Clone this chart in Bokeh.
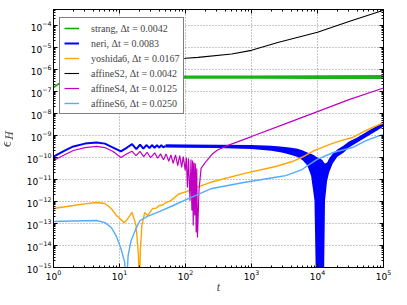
from bokeh.plotting import figure
from bokeh.models import (LogAxis, FixedTicker, LogTickFormatter, Legend, LegendItem,
                          Range1d, CustomJSTickFormatter)
from bokeh.embed import file_html
from bokeh.resources import INLINE

# ---------------- data ----------------
names = ["strang", "neri", "yoshida6", "affineS2", "affineS4", "affineS6"]
dts = ["0.0042", "0.0083", "0.0167", "0.0042", "0.0125", "0.0250"]
colors = ["#00aa00", "#0000ff", "#ffa500", "#000000", "#c000c0", "#55aaff"]

# strang: short rising start, then a thick noisy band
strang_t = [1, 1.18, 1.5, 2, 3]
strang_e = [1.5e-7, 2.2e-7, 3.0e-7, 3.8e-7, 4.5e-7]
strang_band_t = [3, 10, 100, 1000, 10000, 100000]
strang_lo = [3.85e-7, 3.85e-7, 3.8e-7, 3.8e-7, 3.75e-7, 3.7e-7]
strang_hi = [5.3e-7, 5.35e-7, 5.4e-7, 5.45e-7, 5.5e-7, 5.6e-7]

# neri: oscillating start, then a dense band that dives near t = 1e4
neri_t = [1, 1.5, 2, 3, 4.5, 6, 8, 10.5, 13, 15.5, 18, 20.5, 23, 25.5, 28.5, 31,
          34, 37, 40, 43, 46, 50]
neri_e = [1.1e-10, 2.1e-10, 3.2e-10, 4.3e-10, 4.8e-10, 4.3e-10, 2.85e-10, 1.9e-10,
          2.85e-10, 4.1e-10, 2.4e-10, 3.9e-10, 2.56e-10, 3.7e-10, 2.7e-10, 3.7e-10,
          2.8e-10, 3.7e-10, 2.85e-10, 3.65e-10, 2.9e-10, 3.4e-10]
neri_band_t = [50, 100, 300, 1000, 2000, 3000, 4000, 5000, 6000, 7000, 8000, 9000,
               9500, 10000, 11000, 12000, 12500, 13000, 14000, 15000, 17000, 20000,
               25000, 30000, 40000, 60000, 80000, 100000]
neri_hi = [4.0e-10, 3.9e-10, 3.8e-10, 3.7e-10, 3.4e-10, 3.1e-10, 2.8e-10, 2.5e-10,
           2.1e-10, 1.7e-10, 1.5e-10, 1.23e-10, 1.1e-10, 1.0e-10, 9e-11, 7.3e-11,
           5.9e-11, 5.3e-11, 5.9e-11, 9e-11, 1.5e-10, 2.3e-10, 3.5e-10, 5.4e-10,
           8.1e-10, 1.7e-9, 2.8e-9, 4.3e-9]
neri_lo = [2.9e-10, 2.8e-10, 2.7e-10, 2.45e-10, 2.05e-10, 1.65e-10, 1.3e-10, 1.05e-10,
           7.3e-11, 4.3e-11, 1.5e-11, 1.1e-12, 1e-16, 1e-16, 1e-16, 1e-16, 1e-16,
           1.1e-12, 9e-12, 2.1e-11, 5.3e-11, 1.1e-10, 1.7e-10, 2.85e-10, 4.8e-10,
           1.0e-9, 1.7e-9, 2.6e-9]

yoshida_t = [1, 2, 3, 4.5, 6, 7.5, 9, 11.8, 13, 15.5, 17.8, 19.4, 20.0, 20.7, 21.8,
             24.1, 26.7, 31.6, 36, 40.1, 45, 50.8, 60, 79, 103, 155, 241, 762, 2330,
             4150, 5820, 9040, 16100, 22500, 35000, 54300, 87400, 100000]
yoshida_e = [4.8e-13, 6.6e-13, 7.8e-13, 9e-13, 8.1e-13, 4.8e-13, 2.3e-13, 1.1e-13,
             1.5e-13, 3.2e-13, 8.1e-14, 3.5e-15, 1e-16, 5.9e-15, 8.1e-14, 3.2e-13,
             2.3e-13, 4.8e-13, 5.0e-13, 6.6e-13, 7.0e-13, 9e-13, 1.1e-12, 2.2e-12,
             2.8e-12, 4.6e-12, 7.5e-12, 1.87e-11, 3.9e-11, 6.6e-11, 1.03e-10, 2.1e-10,
             4.2e-10, 5.9e-10, 8.4e-10, 1.7e-9, 3.2e-9, 3.7e-9]

affineS2_t = [2, 10, 100, 155, 500, 1000, 2500, 10000, 30000, 100000]
affineS2_e = [3.0e-6, 3.0e-6, 3.3e-6, 3.6e-6, 5.1e-6, 7.5e-6, 1.7e-5, 5.0e-5, 1.55e-4,
              5.0e-4]

affineS4_t = [1, 1.5, 2, 3, 4.5, 6, 8, 10.5, 13, 15.4, 17.8, 20.4, 23.3, 26.1, 29.6,
              34.2, 37.9, 41.9, 46.4, 50.8, 55.7, 60.1, 65, 70.6, 76.3, 81.6, 87.4,
              92.5, 99, 103, 107, 111, 117, 121, 125, 128, 131, 134, 138, 141, 145,
              148, 152, 160, 172, 204, 250, 306, 430, 1000, 3300, 10000, 30000, 100000]
affineS4_e = [7.3e-11, 1.37e-10, 2.1e-10, 2.85e-10, 3.2e-10, 2.85e-10, 1.9e-10, 1.0e-10,
              1.5e-10, 1.95e-10, 1.23e-10, 1.9e-10, 1.1e-10, 1.74e-10, 1.0e-10, 1.64e-10,
              9.3e-11, 1.47e-10, 7.9e-11, 1.47e-10, 6.8e-11, 1.33e-10, 5.5e-11, 1.33e-10,
              4.3e-11, 1.23e-10, 3.6e-11, 1.1e-10, 2.6e-11, 1.0e-10, 4.3e-12, 9e-11,
              1.1e-12, 8.2e-11, 3.9e-13, 7.3e-11, 8.1e-14, 5.9e-11, 2.3e-13, 5.3e-11,
              3.9e-14, 3.2e-11, 2.3e-14, 3.2e-12, 3.2e-11, 6.6e-11, 1.37e-10, 2.2e-10,
              3.5e-10, 9e-10, 3.5e-9, 1.23e-8, 4.3e-8, 1.45e-7]

affineS6_t = [1, 2, 4.5, 6, 7.5, 9, 10.5, 12, 12.7, 13.5, 15, 17.8, 20.5, 26.5, 40, 65,
              100, 241, 762, 2330, 3290, 5820, 9840, 17800, 35000, 54300, 87400, 100000]
affineS6_e = [1.23e-13, 1.3e-13, 1.37e-13, 1.1e-13, 6.6e-14, 2.6e-14, 7.3e-15, 1.7e-15,
              1e-16, 3.5e-15, 1.7e-14, 5.9e-14, 1.37e-13, 2.1e-13, 3.5e-13, 6.6e-13,
              1.2e-12, 3.8e-12, 7.3e-12, 1.27e-11, 1.5e-11, 2.85e-11, 8.3e-11, 1.74e-10,
              2.95e-10, 5.9e-10, 1.0e-9, 1.1e-9]

x_major = [1, 10, 100, 1e3, 1e4, 1e5]
y_major = [1e-15, 1e-14, 1e-13, 1e-12, 1e-11, 1e-10, 1e-9, 1e-8, 1e-7, 1e-6, 1e-5, 1e-4]
x_minor = [m * d for d in x_major[:-1] for m in range(2, 10)]
y_minor = [m * d for d in [1e-16] + y_major for m in range(2, 10)]

# ---------------- figure ----------------
p = figure(width=391, height=297, x_axis_type="log", y_axis_type="log",
           x_range=Range1d(1, 1e5), y_range=Range1d(1e-15, 5.4e-4),
           output_backend="svg", toolbar_location=None,
           min_border_left=43, min_border_right=8, min_border_top=9,
           min_border_bottom=30, background_fill_color="white",
           border_fill_color="white", outline_line_color="black")

def style_axis(ax, ticks, minor):
    ax.ticker = FixedTicker(ticks=ticks, minor_ticks=minor)
    ax.major_tick_in = 4
    ax.major_tick_out = 0
    ax.minor_tick_in = 2
    ax.minor_tick_out = 0
    ax.axis_line_color = "black"
    ax.major_tick_line_color = "black"
    ax.minor_tick_line_color = "black"

style_axis(p.xaxis[0], x_major, x_minor)
style_axis(p.yaxis[0], y_major, y_minor)
for ax in (p.xaxis[0], p.yaxis[0]):
    ax.formatter = LogTickFormatter()
    ax.major_label_text_font = "DejaVu Sans"
    ax.major_label_text_font_size = "9px"
    ax.major_label_text_color = "black"
    ax.major_label_standoff = 2

p.xaxis.axis_label = "t"
p.xaxis.axis_label_text_font = "Liberation Serif"
p.xaxis.axis_label_text_font_style = "italic"
p.xaxis.axis_label_text_font_size = "12px"
p.xaxis.axis_label_standoff = -3
p.yaxis.axis_label = r"$$\epsilon_H$$"
p.yaxis.axis_label_text_font_size = "12px"
p.yaxis.axis_label_standoff = 6

for loc, ticks, minor in (("above", x_major, x_minor), ("right", y_major, y_minor)):
    ax = LogAxis(formatter=CustomJSTickFormatter(code="return ''"),
                 major_label_text_font_size="0px", major_label_standoff=0)
    style_axis(ax, ticks, minor)
    p.add_layout(ax, loc)

p.xgrid.ticker = FixedTicker(ticks=x_major)
p.ygrid.ticker = FixedTicker(ticks=y_major)
p.grid.grid_line_color = "black"
p.grid.grid_line_alpha = 0.55
p.grid.grid_line_dash = "1 2"
p.grid.grid_line_width = 0.8

# draw in the reference order
r0 = p.line(strang_t, strang_e, line_color=colors[0], line_width=1.5)
p.varea(x=strang_band_t, y1=strang_lo, y2=strang_hi, fill_color=colors[0], fill_alpha=0.9)

r1 = p.line(neri_t, neri_e, line_color=colors[1], line_width=2)
p.varea(x=neri_band_t, y1=neri_lo, y2=neri_hi, fill_color=colors[1])

r2 = p.line(yoshida_t, yoshida_e, line_color=colors[2], line_width=1.4)
r3 = p.line(affineS2_t, affineS2_e, line_color=colors[3], line_width=1.1)
r4 = p.line(affineS4_t, affineS4_e, line_color=colors[4], line_width=1.2)
r5 = p.line(affineS6_t, affineS6_e, line_color=colors[5], line_width=1.4)

renderers = [r0, r1, r2, r3, r4, r5]
items = [LegendItem(label=f"{n}, \u0394t = {d}", renderers=[r])
         for n, d, r in zip(names, dts, renderers)]
legend = Legend(items=items, location=(6, 153), margin=0, padding=4, spacing=3,
                glyph_width=15, glyph_height=12, label_height=12, label_standoff=12,
                label_text_font="Liberation Serif", label_text_font_size="10px",
                border_line_color="black", border_line_width=1,
                background_fill_color="white", background_fill_alpha=1)
p.add_layout(legend)

open("out.html", "w").write(file_html(p, INLINE))
